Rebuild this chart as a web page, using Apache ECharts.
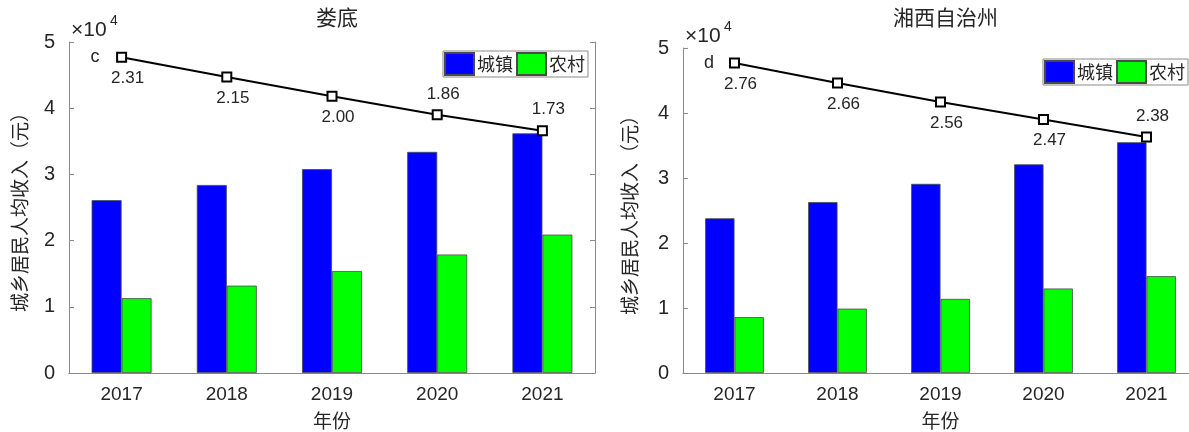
<!DOCTYPE html>
<html><head><meta charset="utf-8">
<script src="https://cdn.jsdelivr.net/npm/echarts@6/dist/echarts.min.js"></script>
<style>html,body{margin:0;padding:0;background:#fff}#c{width:1189px;height:432px}</style>
</head><body><div id="c"></div>
<script>
// ---- data ----
const years = ['2017', '2018', '2019', '2020', '2021'];
const yTicks = [0, 10000, 20000, 30000, 40000, 50000];
const seriesNames = ['城镇', '农村'];
const titles = ['娄底', '湘西自治州'];
const panelTags = ['c', 'd'];

const loudiUrban = [26100, 28400, 30800, 33400, 36200];
const loudiRural = [11300, 13200, 15400, 17900, 20900];
const loudiLine  = [47700, 44700, 41800, 39000, 36600];
const loudiRatio = ['2.31', '2.15', '2.00', '1.86', '1.73'];

const xxUrban = [23800, 26300, 29100, 32100, 35500];
const xxRural = [8600, 9900, 11400, 13000, 14900];
const xxLine  = [47700, 44600, 41700, 39000, 36300];
const xxRatio = ['2.76', '2.66', '2.56', '2.47', '2.38'];

// ---- styles ----
const NUM = 'Liberation Sans, Arial, sans-serif';
const CJK = 'Noto Sans CJK SC, sans-serif';
const TXT = '#262626';
const AX = '#8a8a8a';
const labelPlace = [
  ['bottom', 'bottom', 'bottom', 'top', 'top'],
  ['bottom', 'bottom', 'bottom', 'bottom', 'top']
];
const yNameGap = [40, 44];

const grids = [
  {left: 69, top: 42, width: 526, height: 331, outerBoundsMode: 'none', containLabel: false},
  {left: 683, top: 48, width: 515, height: 325, outerBoundsMode: 'none', containLabel: false}
];

const xAxes = [], yAxes = [], series = [];
const panels = [
  {urban: loudiUrban, rural: loudiRural, line: loudiLine, ratio: loudiRatio},
  {urban: xxUrban, rural: xxRural, line: xxLine, ratio: xxRatio}
];
panels.forEach((p, i) => {
  xAxes.push({
    type: 'category', gridIndex: i, data: years, position: 'bottom',
    axisLine: {lineStyle: {color: AX, width: 1}},
    axisTick: {inside: true, alignWithLabel: true, length: 5, lineStyle: {color: AX}},
    axisLabel: {fontSize: 19, color: TXT, fontFamily: NUM, margin: 12},
    name: '年份', nameLocation: 'middle', nameGap: 38,
    nameTextStyle: {fontSize: 19, color: TXT, fontFamily: CJK}
  });
  xAxes.push({
    type: 'category', gridIndex: i, data: years, position: 'top',
    axisLine: {lineStyle: {color: AX, width: 1}},
    axisTick: {inside: true, alignWithLabel: true, length: 5, lineStyle: {color: AX}},
    axisLabel: {show: false}
  });
  const yBase = {
    type: 'value', gridIndex: i, min: yTicks[0], max: yTicks[yTicks.length - 1],
    interval: yTicks[1] - yTicks[0], splitLine: {show: false},
    axisLine: {show: true, lineStyle: {color: AX, width: 1}},
    axisTick: {show: true, inside: true, length: 5, lineStyle: {color: AX}}
  };
  yAxes.push(Object.assign({}, yBase, {
    position: 'left',
    axisLabel: {fontSize: 20, color: TXT, fontFamily: NUM, margin: 14,
      formatter: v => String(v / 10000)},
    name: '城乡居民人均收入（元）', nameLocation: 'middle', nameRotate: 90, nameGap: yNameGap[i],
    nameTextStyle: {fontSize: 19, color: TXT, fontFamily: CJK}
  }));
  yAxes.push(Object.assign({}, yBase, {position: 'right', axisLabel: {show: false}}));

  const xi = i * 2, yi = i * 2;
  series.push({
    name: seriesNames[0], type: 'bar', xAxisIndex: xi, yAxisIndex: yi, data: p.urban,
    barWidth: '28.5%', barGap: '0%',
    itemStyle: {color: '#0000ff', borderColor: '#4a4a4a', borderWidth: 0.8}
  });
  series.push({
    name: seriesNames[1], type: 'bar', xAxisIndex: xi, yAxisIndex: yi, data: p.rural,
    barWidth: '28.5%', barGap: '0%',
    itemStyle: {color: '#00ff00', borderColor: '#4a4a4a', borderWidth: 0.8}
  });
  series.push({
    type: 'line', xAxisIndex: xi, yAxisIndex: yi, z: 5,
    data: p.line.map((v, k) => ({
      value: v,
      label: {position: labelPlace[i][k], offset: [6, 0], distance: 7}
    })),
    symbol: 'rect', symbolSize: 9,
    lineStyle: {color: '#000', width: 2},
    itemStyle: {color: '#fff', borderColor: '#000', borderWidth: 2},
    label: {show: true, fontSize: 17, color: TXT, fontFamily: NUM,
      formatter: prm => p.ratio[prm.dataIndex]}
  });
});

const legendBase = {
  data: seriesNames, orient: 'horizontal', icon: 'rect',
  itemWidth: 29, itemHeight: 22, itemGap: 3,
  borderColor: AX, borderWidth: 1, padding: [1, 3, 1, 1],
  backgroundColor: '#fff',
  textStyle: {fontSize: 18, color: TXT, fontFamily: CJK, padding: [0, 0, 0, -2]}
};

const graphics = [];
grids.forEach((g, i) => {
  graphics.push({type: 'text', x: g.left + 2, y: g.top - 12,
    style: {text: '×10', fontSize: 21, fill: TXT, fontFamily: NUM, verticalAlign: 'middle'}});
  graphics.push({type: 'text', x: g.left + 41, y: g.top - 21,
    style: {text: '4', fontSize: 14, fill: TXT, fontFamily: NUM, verticalAlign: 'middle'}});
  graphics.push({type: 'text', x: g.left + 26, y: g.top + 15,
    style: {text: panelTags[i], fontSize: 18, fill: TXT, fontFamily: NUM, align: 'center', verticalAlign: 'middle'}});
});

const option = {
  animation: false,
  backgroundColor: '#fff',
  title: grids.map((g, i) => ({
    text: titles[i], left: g.left + g.width / 2, top: 2, textAlign: 'center',
    textStyle: {fontSize: 21, fontWeight: 'normal', color: TXT, fontFamily: CJK}
  })),
  grid: grids,
  xAxis: xAxes,
  yAxis: yAxes,
  legend: [
    Object.assign({}, legendBase, {left: 443, top: 51}),
    Object.assign({}, legendBase, {right: 1, top: 59})
  ],
  graphic: graphics,
  series: series
};
const chart = echarts.init(document.getElementById('c'), null, {renderer: 'canvas'});
chart.setOption(option);
</script></body></html>
